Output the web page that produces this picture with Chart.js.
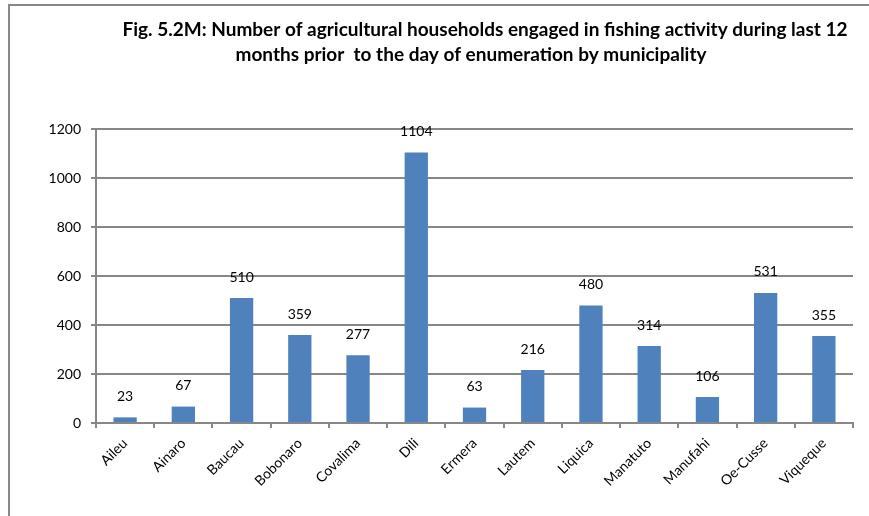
<!DOCTYPE html>
<html><head><meta charset="utf-8">
<script src="https://cdn.jsdelivr.net/npm/chart.js@4/dist/chart.umd.min.js"></script>
<style>
html,body{margin:0;padding:0;background:#fff;}
#wrap{position:absolute;left:0;top:0;width:869px;height:516px;overflow:hidden;}
#frame{position:absolute;left:8px;top:4px;width:900px;height:600px;border-left:2px solid #878787;border-top:2px solid #878787;}
canvas{position:absolute;left:0;top:0;}
</style></head>
<body><div id="wrap"><div id="frame"></div><canvas id="c" width="869" height="516"></canvas></div>
<script>
const categories = ["Aileu","Ainaro","Baucau","Bobonaro","Covalima","Dili","Ermera","Lautem","Liquica","Manatuto","Manufahi","Oe-Cusse","Viqueque"];
const households = [23,67,510,359,277,1104,63,216,480,314,106,531,355];
const yTicks = [0,200,400,600,800,1000,1200];
const titleLines = ["Fig. 5.2M: Number of agricultural households engaged in fishing activity during last 12","months prior  to the day of enumeration by municipality"];

const FONT = "Lato, 'Open Sans', sans-serif";

const titlePlugin = {
  id:'titleText',
  afterDraw(chart){
    const ctx = chart.ctx;
    ctx.save();
    ctx.fillStyle = '#000';
    ctx.font = "bold 19px " + FONT;
    ctx.textAlign = 'center';
    ctx.textBaseline = 'middle';
    ctx.fillText(titleLines[0], 485, 30);
    ctx.fillText(titleLines[1], 471, 55);
    ctx.restore();
  }
};
const labelPlugin = {
  id:'barLabels',
  afterDatasetsDraw(chart){
    const ctx = chart.ctx;
    const meta = chart.getDatasetMeta(0);
    ctx.save();
    ctx.fillStyle = '#000';
    ctx.font = "14px " + FONT;
    ctx.textAlign = 'center';
    ctx.textBaseline = 'middle';
    meta.data.forEach((bar,i)=>{
      ctx.fillText(String(households[i]), bar.x, bar.y - 21);
    });
    ctx.restore();
  }
};

new Chart(document.getElementById('c'), {
  type:'bar',
  data:{labels:categories, datasets:[{data:households, backgroundColor:'#4F81BD', borderColor:'#4F81BD', borderWidth:0, barPercentage:0.4, categoryPercentage:1.0}]},
  options:{
    responsive:false, animation:false,
    layout:{padding:{left:0,right:16,top:129,bottom:0}},
    plugins:{legend:{display:false}, title:{display:false}, tooltip:{enabled:false}},
    scales:{
      x:{
        offset:true,
        afterFit(s){ s.height = 93; },
        grid:{display:true, offset:true, drawOnChartArea:false, drawTicks:true, tickLength:5, color:'#878787', lineWidth:2},
        border:{display:true, color:'#878787', width:2},
        ticks:{color:'#000', font:{size:14, family:FONT}, maxRotation:45, minRotation:45, padding:7}
      },
      y:{
        min:0, max:1200,
        afterFit(s){ s.width = 96; },
        afterBuildTicks(s){ s.ticks = yTicks.map(v=>({value:v})); },
        grid:{color:'#878787', lineWidth:2, tickLength:5, drawTicks:true},
        border:{display:true, color:'#878787', width:2},
        ticks:{color:'#000', font:{size:14, family:FONT}, padding:10, callback:(v)=>String(v)}
      }
    }
  },
  plugins:[titlePlugin, labelPlugin]
});
</script></body></html>
